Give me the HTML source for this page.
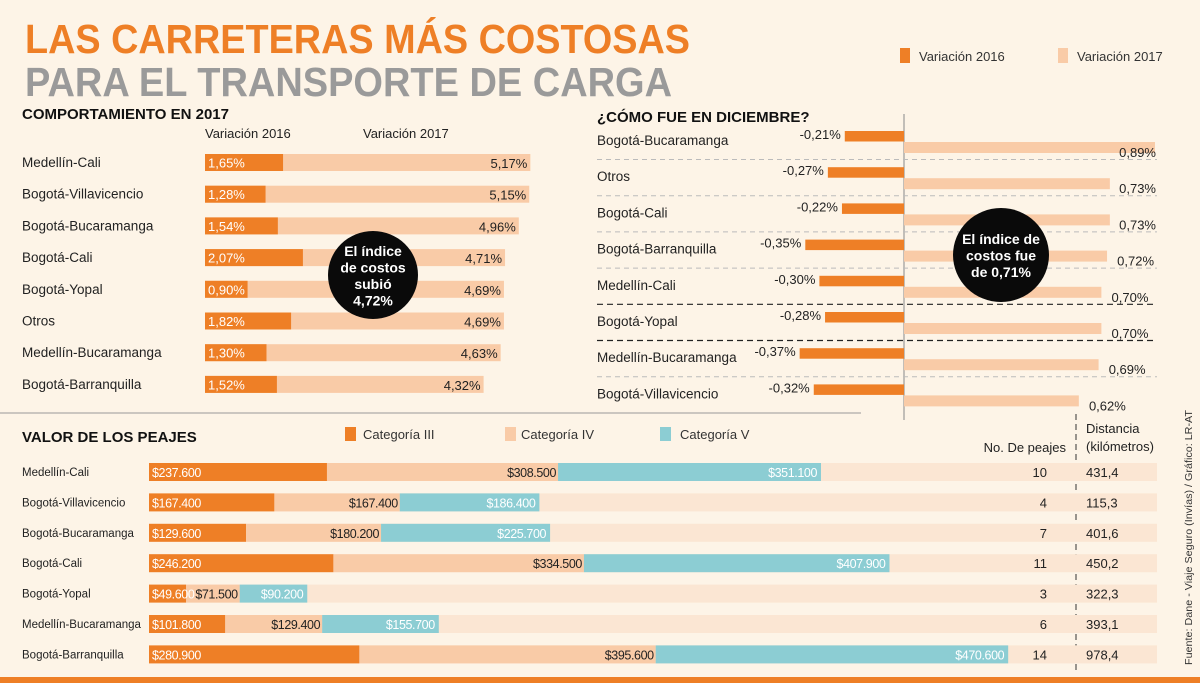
<!DOCTYPE html>
<html><head><meta charset="utf-8"><style>
html,body{margin:0;padding:0;background:#fdf4e7;}
svg{display:block;font-family:"Liberation Sans",sans-serif;}
</style></head><body>
<svg id="s" width="1200" height="683" viewBox="0 0 1200 683">
<rect x="0" y="0" width="1200" height="683" fill="#fdf4e7"/>
<text x="25" y="53" font-size="41" font-weight="bold" fill="#ee7f26" textLength="665" lengthAdjust="spacingAndGlyphs">LAS CARRETERAS MÁS COSTOSAS</text>
<text x="25" y="96" font-size="41" font-weight="bold" fill="#9a9a9a" textLength="647" lengthAdjust="spacingAndGlyphs">PARA EL TRANSPORTE DE CARGA</text>
<g>
<rect x="900" y="48" width="10" height="15" fill="#ee7f26"/>
<text x="919" y="61" font-size="13" fill="#333">Variación 2016</text>
<rect x="1058" y="48" width="10" height="15" fill="#f9cba7"/>
<text x="1077" y="61" font-size="13" fill="#333">Variación 2017</text>
</g>
<text x="22" y="119" font-size="15" font-weight="bold" fill="#111">COMPORTAMIENTO EN 2017</text>
<text x="205" y="138" font-size="13" fill="#222">Variación 2016</text>
<text x="363" y="138" font-size="13" fill="#222">Variación 2017</text>
<text x="597" y="122" font-size="15" font-weight="bold" fill="#111">¿CÓMO FUE EN DICIEMBRE?</text>
<line x1="0" y1="413" x2="861" y2="413" stroke="#999" stroke-width="1"/>
<line x1="904" y1="114" x2="904" y2="420" stroke="#888" stroke-width="1"/>
<text x="22" y="442" font-size="15" font-weight="bold" fill="#111">VALOR DE LOS PEAJES</text>
<g>
<rect x="345" y="427" width="11" height="14" fill="#ee7f26"/>
<text x="363" y="439" font-size="13" fill="#333">Categoría III</text>
<rect x="505" y="427" width="11" height="14" fill="#f9cba7"/>
<text x="521" y="439" font-size="13" fill="#333">Categoría IV</text>
<rect x="660" y="427" width="11" height="14" fill="#8ccdd3"/>
<text x="680" y="439" font-size="13" fill="#333">Categoría V</text>
</g>
<text x="1066" y="452" font-size="13" fill="#222" text-anchor="end">No. De peajes</text>
<text x="1086" y="433" font-size="13" fill="#222">Distancia</text>
<text x="1086" y="451" font-size="13" fill="#222">(kilómetros)</text>
<line x1="1076" y1="414" x2="1076" y2="670" stroke="#333" stroke-width="1" stroke-dasharray="6,4"/>
<text transform="translate(1192,665) rotate(-90)" font-size="10.5" fill="#333" textLength="255" lengthAdjust="spacingAndGlyphs">Fuente: Dane - Viaje Seguro (Invías) / Gráfico: LR-AT</text>
<rect x="0" y="677" width="1200" height="6" fill="#ee7f26"/>
<g id="c1"></g>
<g id="c2"></g>
<g id="c3"></g>
</svg>
<script>
const routes1 = ["Medellín-Cali","Bogotá-Villavicencio","Bogotá-Bucaramanga","Bogotá-Cali","Bogotá-Yopal","Otros","Medellín-Bucaramanga","Bogotá-Barranquilla"];
const var2016 = [1.65,1.28,1.54,2.07,0.90,1.82,1.30,1.52];
const var2017 = [5.17,5.15,4.96,4.71,4.69,4.69,4.63,4.32];
const routes2 = ["Bogotá-Bucaramanga","Otros","Bogotá-Cali","Bogotá-Barranquilla","Medellín-Cali","Bogotá-Yopal","Medellín-Bucaramanga","Bogotá-Villavicencio"];
const decNeg = [-0.21,-0.27,-0.22,-0.35,-0.30,-0.28,-0.37,-0.32];
const decPos = [0.89,0.73,0.73,0.72,0.70,0.70,0.69,0.62];
const routes3 = ["Medellín-Cali","Bogotá-Villavicencio","Bogotá-Bucaramanga","Bogotá-Cali","Bogotá-Yopal","Medellín-Bucaramanga","Bogotá-Barranquilla"];
const cat3 = [237600,167400,129600,246200,49600,101800,280900];
const cat4 = [308500,167400,180200,334500,71500,129400,395600];
const cat5 = [351100,186400,225700,407900,90200,155700,470600];
const numPeajes = [10,4,7,11,3,6,14];
const distancia = ["431,4","115,3","401,6","450,2","322,3","393,1","978,4"];

const NS="http://www.w3.org/2000/svg";
function mk(p,tag,a,txt){const e=document.createElementNS(NS,tag);for(const k in a)e.setAttribute(k,a[k]);if(txt!==undefined)e.textContent=txt;p.appendChild(e);return e;}
const fmtPct=v=>v.toFixed(2).replace('.',',')+'%';
function money(v){const s=String(v);return '$'+s.slice(0,s.length-3)+'.'+s.slice(-3);}

// Chart 1
const c1=document.getElementById('c1');
const x1o=205, s16=47.3;
const w17=v=>41+55*v;
const y1=i=>154+i*31.7;
routes1.forEach((r,i)=>{
  const y=y1(i);
  let e;
  e=mk(c1,'text',{x:22,y:y+13,'font-size':13.5,fill:'#222'},r);
  
  
  e=mk(c1,'rect',{x:x1o,y:y,width:w17(var2017[i]),height:17,fill:'#f9cba7'});
  
  
  e=mk(c1,'rect',{x:x1o,y:y,width:var2016[i]*s16,height:17,fill:'#ee7f26'});
  
  
  e=mk(c1,'text',{x:x1o+3,y:y+13.5,'font-size':13,fill:'#fff'},fmtPct(var2016[i]));
  
  
  e=mk(c1,'text',{x:x1o+w17(var2017[i])-3,y:y+14,'font-size':13,fill:'#222','text-anchor':'end'},fmtPct(var2017[i]));
  
  
});
let b1=mk(c1,'ellipse',{cx:373,cy:275,rx:45,ry:44,fill:'#0a0a0a'});


["El índice","de costos","subió","4,72%"].forEach((t,k)=>{
  const e=mk(c1,'text',{x:373,y:256+k*16.5,'font-size':14,'font-weight':'bold',fill:'#fff','text-anchor':'middle'},t);
  
  
});

// Chart 2
const c2=document.getElementById('c2');
const ax=904, s2=282;
const y2=i=>131+i*36.2;
routes2.forEach((r,i)=>{
  const y=y2(i);
  let e;
  e=mk(c2,'text',{x:597,y:y+14,'font-size':13.5,fill:'#222'},r);
  
  
  const w=-decNeg[i]*s2;
  e=mk(c2,'rect',{x:ax-w,y:y,width:w,height:10.5,fill:'#ee7f26'});
  
  
  e=mk(c2,'text',{x:ax-w-4,y:y+8,'font-size':13,fill:'#222','text-anchor':'end'},fmtPct(decNeg[i]));
  
  
  const wp=decPos[i]*s2;
  e=mk(c2,'rect',{x:ax,y:y+11,width:wp,height:11,fill:'#f9cba7'});
  
  
  e=mk(c2,'text',{x:Math.min(ax+wp+47,1156),y:y+26,'font-size':13,fill:'#222','text-anchor':'end'},fmtPct(decPos[i]));
  
  
  if(i<routes2.length-1){
    const dark=(i===4||i===5);
    e=mk(c2,'line',{x1:597,x2:1157,y1:y+28.5,y2:y+28.5,stroke:dark?'#222':'#bbb','stroke-width':dark?1.2:1,'stroke-dasharray':dark?'6,4':'5,4'});
    
    
  }
});
let b2=mk(c2,'ellipse',{cx:1001,cy:255,rx:48,ry:47,fill:'#0a0a0a'});


["El índice de","costos  fue","de 0,71%"].forEach((t,k)=>{
  const e=mk(c2,'text',{x:1001,y:244+k*16.5,'font-size':14,'font-weight':'bold',fill:'#fff','text-anchor':'middle'},t);
  
  
});

// Chart 3
const c3=document.getElementById('c3');
const x3o=149, s3=0.000749;
const y3=i=>463+i*30.4;
routes3.forEach((r,i)=>{
  const y=y3(i);
  let e;
  e=mk(c3,'text',{x:22,y:y+13,'font-size':11.5,fill:'#222'},r);
  
  
  e=mk(c3,'rect',{x:x3o,y:y,width:1157-x3o,height:18,fill:'#fbe6d3'});
  
  
  const w3=cat3[i]*s3, w4=cat4[i]*s3, w5=cat5[i]*s3;
  e=mk(c3,'rect',{x:x3o,y:y,width:w3,height:18,fill:'#ee7f26'});
  
  
  e=mk(c3,'rect',{x:x3o+w3,y:y,width:w4,height:18,fill:'#f9cba7'});
  
  
  e=mk(c3,'rect',{x:x3o+w3+w4,y:y,width:w5,height:18,fill:'#8ccdd3'});
  
  
  e=mk(c3,'text',{x:x3o+3,y:y+14,'font-size':12.5,'letter-spacing':'-0.4',fill:'#fff'},money(cat3[i]));
  
  
  e=mk(c3,'text',{x:x3o+w3+w4-2,y:y+14,'font-size':12.5,'letter-spacing':'-0.4',fill:'#222','text-anchor':'end'},money(cat4[i]));
  
  
  e=mk(c3,'text',{x:x3o+w3+w4+w5-4,y:y+14,'font-size':12.5,'letter-spacing':'-0.4',fill:'#fff','text-anchor':'end'},money(cat5[i]));
  
  
  e=mk(c3,'text',{x:1047,y:y+14,'font-size':13,fill:'#222','text-anchor':'end'},String(numPeajes[i]));
  
  
  e=mk(c3,'text',{x:1086,y:y+14,'font-size':13,fill:'#222'},distancia[i]);
  
  
});
</script>
</body></html>
